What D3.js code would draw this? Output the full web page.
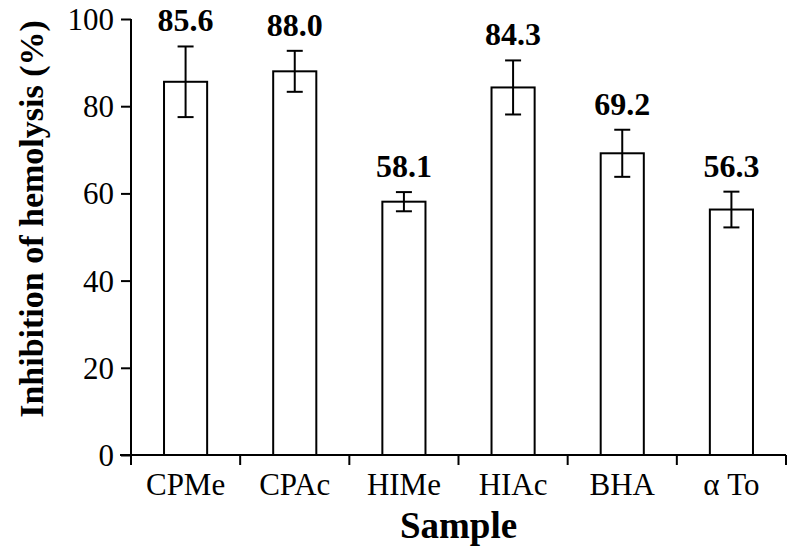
<!DOCTYPE html>
<html>
<head>
<meta charset="utf-8">
<script src="https://cdn.jsdelivr.net/npm/d3@7"></script>
<style>
  body { margin: 0; background: #fff; }
  text { font-family: "Liberation Serif", "Times New Roman", serif; fill: #000; }
</style>
</head>
<body>
<div id="chart"></div>
<script>
// data
let samples = ["CPMe", "CPAc", "HIMe", "HIAc", "BHA", "\u03b1 To"];
let means = [85.6, 88.0, 58.1, 84.3, 69.2, 56.3];
let errors = [8.1, 4.7, 2.2, 6.2, 5.4, 4.1];
let yTicks = [0, 20, 40, 60, 80, 100];

let width = 790,
    height = 552;

let margin = { left: 131, right: 4, top: 19, bottom: 97 };

let svg = d3.select("#chart")
    .append("svg")
    .attr("width", width)
    .attr("height", height);

let x = d3.scaleBand()
    .domain(samples)
    .range([margin.left, width - margin.right]);

let y = d3.scaleLinear()
    .domain([0, 100])
    .range([height - margin.bottom, margin.top]);

let barWidth = x.bandwidth() * 0.395;

// bars
svg.selectAll(".bar")
    .data(samples)
    .enter().append("rect")
    .attr("class", "bar")
    .attr("x", function (d) { return x(d) + x.bandwidth() / 2 - barWidth / 2 })
    .attr("y", function (d, i) { return y(means[i]) })
    .attr("width", barWidth)
    .attr("height", function (d, i) { return y(0) - y(means[i]) })
    .attr("fill", "#fff")
    .attr("stroke", "#000")
    .attr("stroke-width", 2);

// error bars
let err = svg.selectAll(".err")
    .data(samples)
    .enter().append("g")
    .attr("class", "err")
    .attr("transform", function (d) { return "translate(" + (x(d) + x.bandwidth() / 2) + ",0)" });

err.append("line")
    .attr("y1", function (d, i) { return y(means[i] + errors[i]) })
    .attr("y2", function (d, i) { return y(means[i] - errors[i]) });
err.append("line")
    .attr("x1", -8).attr("x2", 8)
    .attr("y1", function (d, i) { return y(means[i] + errors[i]) })
    .attr("y2", function (d, i) { return y(means[i] + errors[i]) });
err.append("line")
    .attr("x1", -8).attr("x2", 8)
    .attr("y1", function (d, i) { return y(means[i] - errors[i]) })
    .attr("y2", function (d, i) { return y(means[i] - errors[i]) });
err.selectAll("line")
    .attr("stroke", "#000")
    .attr("stroke-width", 2);

// value labels
err.append("text")
    .attr("y", function (d, i) { return y(means[i] + errors[i]) - 15 })
    .attr("text-anchor", "middle")
    .attr("font-weight", "bold")
    .style("font-size", "32px")
    .text(function (d, i) { return means[i].toFixed(1) });

// x axis, ticks at band edges
let xAxis = svg.append("g")
    .attr("transform", "translate(0," + y(0) + ")");

xAxis.append("line")
    .attr("x1", margin.left - 11)
    .attr("x2", width - margin.right)
    .attr("stroke", "#000")
    .attr("stroke-width", 2);

xAxis.selectAll(".xtick")
    .data(samples.concat(["end"]))
    .enter().append("line")
    .attr("x1", function (d, i) { return i < samples.length ? x(d) : x.range()[1] })
    .attr("x2", function (d, i) { return i < samples.length ? x(d) : x.range()[1] })
    .attr("y1", 0)
    .attr("y2", 10)
    .attr("stroke", "#000")
    .attr("stroke-width", 2);

xAxis.selectAll(".xlabel")
    .data(samples)
    .enter().append("text")
    .attr("x", function (d) { return x(d) + x.bandwidth() / 2 })
    .attr("y", 40)
    .attr("text-anchor", "middle")
    .style("font-size", "31px")
    .text(function (d) { return d });

// y axis
let yAxis = svg.append("g")
    .attr("transform", "translate(" + margin.left + ",0)")
    .call(d3.axisLeft(y).tickValues(yTicks).tickSize(10).tickPadding(7));

yAxis.select(".domain").remove();
yAxis.selectAll(".tick line").attr("stroke-width", 2);
yAxis.selectAll(".tick text")
    .style("font-family", "'Liberation Serif', 'Times New Roman', serif")
    .style("font-size", "31px")
    .attr("dy", "0.34em");

yAxis.append("line")
    .attr("y1", y(100))
    .attr("y2", y(0))
    .attr("stroke", "#000")
    .attr("stroke-width", 2);

// axis titles
svg.append("text")
    .attr("x", (x.range()[0] + x.range()[1]) / 2)
    .attr("y", 538)
    .attr("text-anchor", "middle")
    .attr("font-weight", "bold")
    .style("font-size", "37px")
    .text("Sample");

svg.append("text")
    .attr("transform", "translate(43," + 219 + ") rotate(-90)")
    .attr("text-anchor", "middle")
    .attr("font-weight", "bold")
    .style("font-size", "34px")
    .text("Inhibition of hemolysis (%)");
</script>
</body>
</html>
